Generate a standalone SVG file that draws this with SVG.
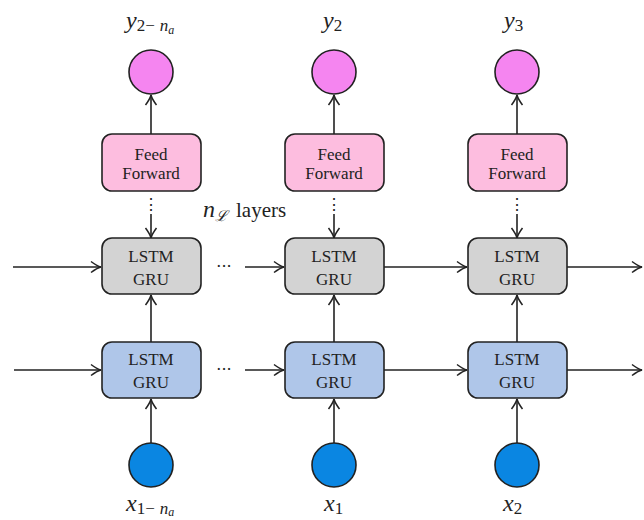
<svg xmlns="http://www.w3.org/2000/svg" width="644" height="520" viewBox="0 0 644 520">
<style>
.box{stroke:#222;stroke-width:1.6}
.ff{fill:#FDBDDF}
.gr{fill:#D3D3D3}
.bl{fill:#AFC6E9}
.out{fill:#F585F0;stroke:#222;stroke-width:1.6}
.inp{fill:#0A86E2;stroke:#222;stroke-width:1.6}
.t{font-family:"Liberation Serif","DejaVu Serif",serif;font-size:17px;fill:#222;text-anchor:middle}
.m{font-family:"Liberation Serif","DejaVu Serif",serif;font-style:italic;font-size:24px;fill:#222}
.c{stroke:#222;stroke-width:1.6;fill:none}
.d{font-family:"DejaVu Serif",serif;font-size:16px;fill:#222;text-anchor:middle}
</style>
<defs>
<marker id="ah" markerUnits="userSpaceOnUse" markerWidth="14" markerHeight="14" viewBox="-12 -7 14 14" refX="0" refY="0" orient="auto">
<path d="M-10,-5.5 Q-4,-1 0,0 Q-4,1 -10,5.5" fill="none" stroke="#222" stroke-width="1.5"/>
</marker>
</defs>
<g id="connectors">
<path class="c" d="M151,134 V95" marker-end="url(#ah)"/>
<path class="c" d="M334,134 V95" marker-end="url(#ah)"/>
<path class="c" d="M517,134 V95" marker-end="url(#ah)"/>
<path class="c" d="M151,214 V238" marker-end="url(#ah)"/>
<path class="c" d="M334,214 V238" marker-end="url(#ah)"/>
<path class="c" d="M517,214 V238" marker-end="url(#ah)"/>
<path class="c" d="M151,342 V295" marker-end="url(#ah)"/>
<path class="c" d="M334,342 V295" marker-end="url(#ah)"/>
<path class="c" d="M517,342 V295" marker-end="url(#ah)"/>
<path class="c" d="M151,443 V399" marker-end="url(#ah)"/>
<path class="c" d="M334,443 V399" marker-end="url(#ah)"/>
<path class="c" d="M517,443 V399" marker-end="url(#ah)"/>
<path class="c" d="M13,267 H101" marker-end="url(#ah)"/>
<path class="c" d="M245,267 H284" marker-end="url(#ah)"/>
<path class="c" d="M384,267 H467" marker-end="url(#ah)"/>
<path class="c" d="M567,267 H642" marker-end="url(#ah)"/>
<path class="c" d="M14,370 H101" marker-end="url(#ah)"/>
<path class="c" d="M245,370 H284" marker-end="url(#ah)"/>
<path class="c" d="M384,370 H467" marker-end="url(#ah)"/>
<path class="c" d="M567,370 H642" marker-end="url(#ah)"/>
<text class="d" x="151" y="210">⋮</text>
<text class="d" x="334" y="210">⋮</text>
<text class="d" x="517" y="210">⋮</text>
<text class="d" x="224" y="272">···</text>
<text class="d" x="224" y="375">···</text>
</g>
<g id="y1"><circle class="out" cx="151" cy="72" r="22"/></g>
<g id="y2"><circle class="out" cx="334" cy="72" r="22"/></g>
<g id="y3"><circle class="out" cx="517" cy="72" r="22"/></g>
<g id="ff1"><rect class="box ff" x="102" y="134" width="99" height="57" rx="10"/><text class="t" x="151" y="160">Feed</text><text class="t" x="151" y="179">Forward</text></g>
<g id="ff2"><rect class="box ff" x="285" y="134" width="99" height="57" rx="10"/><text class="t" x="334" y="160">Feed</text><text class="t" x="334" y="179">Forward</text></g>
<g id="ff3"><rect class="box ff" x="468" y="134" width="99" height="57" rx="10"/><text class="t" x="517" y="160">Feed</text><text class="t" x="517" y="179">Forward</text></g>
<g id="g1"><rect class="box gr" x="102" y="238" width="99" height="56" rx="10"/><text class="t" x="151" y="262">LSTM</text><text class="t" x="151" y="285">GRU</text></g>
<g id="g2"><rect class="box gr" x="285" y="238" width="99" height="56" rx="10"/><text class="t" x="334" y="262">LSTM</text><text class="t" x="334" y="285">GRU</text></g>
<g id="g3"><rect class="box gr" x="468" y="238" width="99" height="56" rx="10"/><text class="t" x="517" y="262">LSTM</text><text class="t" x="517" y="285">GRU</text></g>
<g id="b1"><rect class="box bl" x="102" y="342" width="99" height="56" rx="10"/><text class="t" x="151" y="365">LSTM</text><text class="t" x="151" y="388">GRU</text></g>
<g id="b2"><rect class="box bl" x="285" y="342" width="99" height="56" rx="10"/><text class="t" x="334" y="365">LSTM</text><text class="t" x="334" y="388">GRU</text></g>
<g id="b3"><rect class="box bl" x="468" y="342" width="99" height="56" rx="10"/><text class="t" x="517" y="365">LSTM</text><text class="t" x="517" y="388">GRU</text></g>
<g id="x1"><circle class="inp" cx="151" cy="465" r="22"/></g>
<g id="x2"><circle class="inp" cx="334" cy="465" r="22"/></g>
<g id="x3"><circle class="inp" cx="517" cy="465" r="22"/></g>
<g id="labels">
<text class="m" x="126" y="28">y<tspan font-style="normal" font-size="17" dy="3">2−</tspan><tspan font-size="17" dx="5">n</tspan><tspan font-size="12" dy="3">a</tspan></text>
<text class="m" x="323" y="28">y<tspan font-style="normal" font-size="17" dy="3">2</tspan></text>
<text class="m" x="504" y="28">y<tspan font-style="normal" font-size="17" dy="3">3</tspan></text>
<text class="m" x="126" y="511">x<tspan font-style="normal" font-size="17" dy="3">1−</tspan><tspan font-size="17" dx="5">n</tspan><tspan font-size="12" dy="2">a</tspan></text>
<text class="m" x="324" y="511">x<tspan font-style="normal" font-size="17" dy="3">1</tspan></text>
<text class="m" x="503" y="511">x<tspan font-style="normal" font-size="17" dy="3">2</tspan></text>
<text class="m" x="203" y="217">n<tspan font-size="15" dy="4">ℒ</tspan><tspan font-style="normal" font-size="21" dy="-4" dx="9">layers</tspan></text>
</g>
</svg>
